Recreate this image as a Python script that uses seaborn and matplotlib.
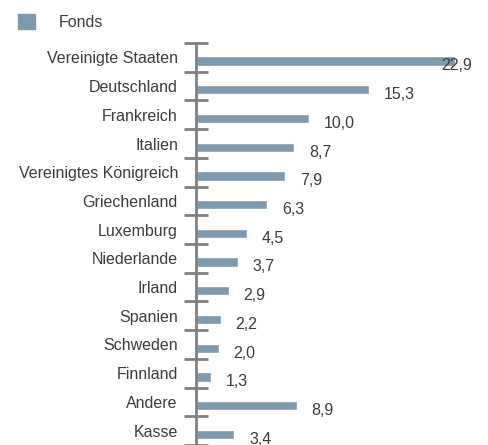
import matplotlib
matplotlib.use('Agg')
from matplotlib import pyplot as plt
from matplotlib.patches import Patch
import seaborn as sns
import pandas as pd
import numpy as np

# ====================== Данные ======================
countries = ['Vereinigte Staaten', 'Deutschland', 'Frankreich', 'Italien',
             'Vereinigtes Königreich', 'Griechenland', 'Luxemburg', 'Niederlande',
             'Irland', 'Spanien', 'Schweden', 'Finnland', 'Andere', 'Kasse']
values = [22.9, 15.3, 10.0, 8.7, 7.9, 6.3, 4.5, 3.7, 2.9, 2.2, 2.0, 1.3, 8.9, 3.4]
value_labels = ['22,9', '15,3', '10,0', '8,7', '7,9', '6,3', '4,5', '3,7',
                '2,9', '2,2', '2,0', '1,3', '8,9', '3,4']
series_name = 'Fonds'

bar_color = '#7f9aad'
text_color = '#3c3c3c'
axis_color = '#808080'

df = pd.DataFrame({'Land': countries, 'Wert': values})

sns.set_style('white')
plt.rcParams['font.family'] = ['Liberation Sans', 'DejaVu Sans']

fig = plt.figure(figsize=(4.89, 4.45), dpi=100)
ax = fig.add_axes([196 / 489, 0.0, 284 / 489, 1 - 43 / 445])

sns.barplot(data=df, x='Wert', y='Land', color=bar_color, width=0.32,
            saturation=1, ax=ax)

# Balken etwas nach unten versetzen
for p in ax.patches:
    p.set_y(p.get_y() + 0.13)

n = len(countries)
ax.set_xlim(0, 25.1)
ax.set_ylim(n - 0.5, -0.5)

# Wertebeschriftung
for i, (v, lab) in enumerate(zip(values, value_labels)):
    x = min(v + 1.3, 21.7)
    ax.text(x, i + 0.3, lab, va='center', ha='left', fontsize=11.5, color=text_color)

# Achsen
for s in ['top', 'right', 'bottom']:
    ax.spines[s].set_visible(False)
ax.spines['left'].set_color(axis_color)
ax.spines['left'].set_linewidth(2)
ax.set_xticks([])
ax.set_xlabel('')
ax.set_ylabel('')
ax.set_yticks(np.arange(n))
ax.set_yticklabels(countries)
ax.set_yticks(np.arange(n + 1) - 0.5, minor=True)
ax.tick_params(axis='y', which='major', length=0, pad=13, labelsize=11.5,
               labelcolor=text_color)
ax.tick_params(axis='y', which='minor', direction='inout', length=17, width=2,
               color=axis_color, left=True)
ax.spines['left'].set_clip_on(False)

# Legende
fig.legend(handles=[Patch(color=bar_color)], labels=[series_name],
           loc='upper left', bbox_to_anchor=(4 / 489, 1), frameon=False,
           fontsize=11.5, handlelength=1.05, handleheight=1.05, handletextpad=1.45,
           labelcolor=text_color)

plt.savefig('out.png', dpi=100)
